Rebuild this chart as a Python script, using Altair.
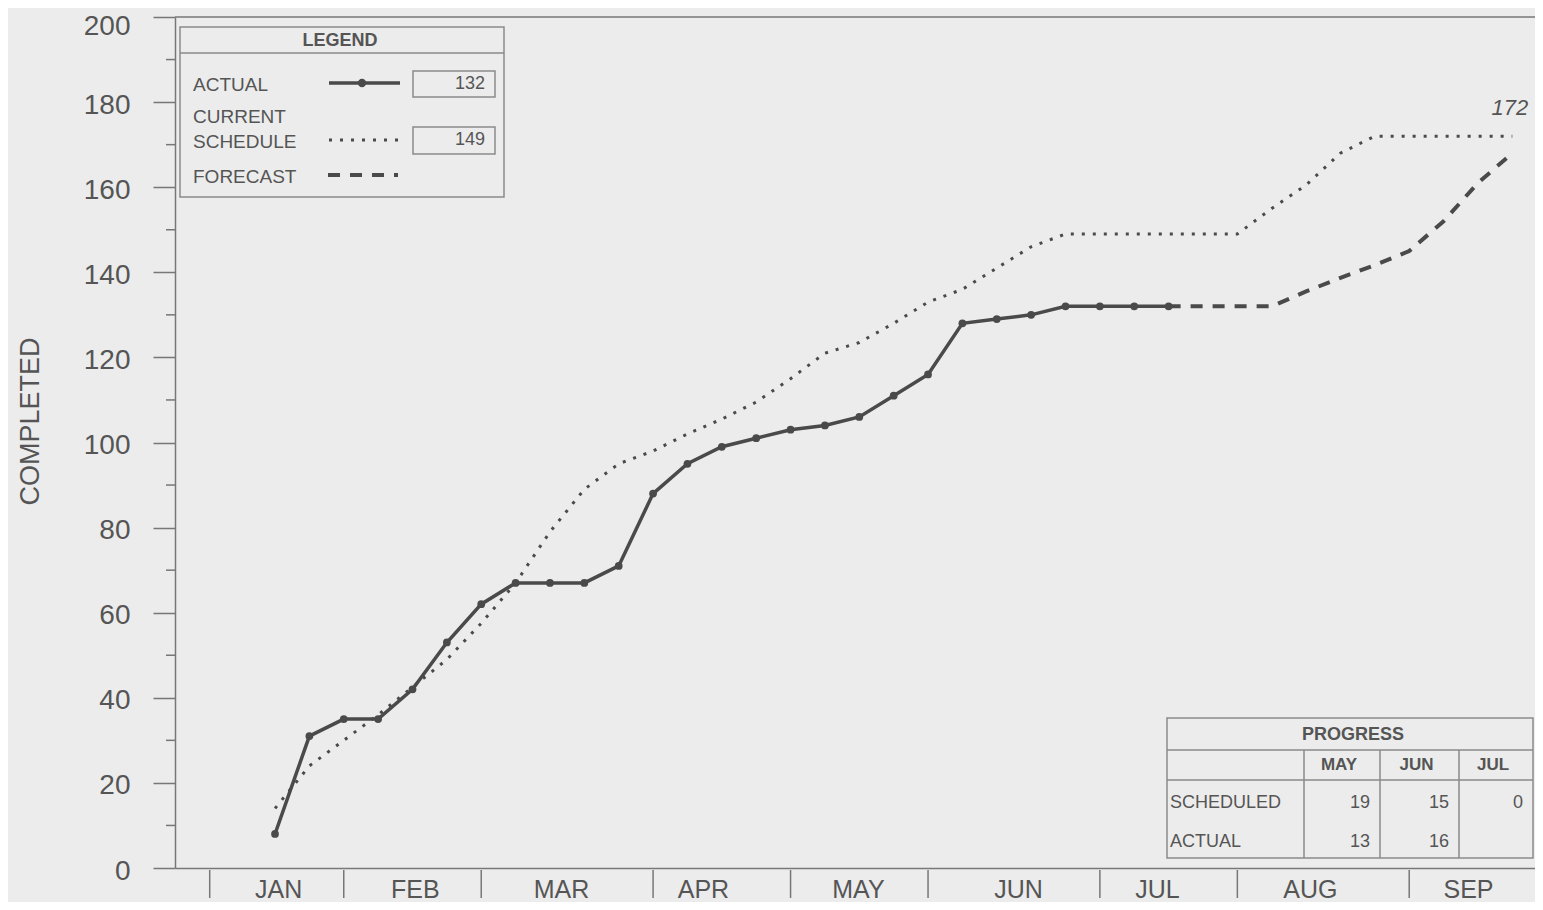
import altair as alt
import pandas as pd

# ---------------- data ----------------
weeks_actual = list(range(2, 29))
actual_vals = [8, 31, 35, 35, 42, 53, 62, 67, 67, 67, 71, 88, 95, 99, 101, 103, 104, 106,
               111, 116, 128, 129, 130, 132, 132, 132, 132]

weeks_sched = list(range(2, 39))
sched_vals = [14, 24, 30, 36, 42.5, 49, 57.5, 67, 79, 89, 95, 98, 102, 105.5, 109.5, 115,
              121, 123.5, 128, 133, 136, 141, 146, 149, 149, 149, 149, 149, 149, 155, 160.5,
              168, 172, 172, 172, 172, 172]

weeks_fc = list(range(28, 39))
fc_vals = [132, 132, 132, 132, 135.5, 138.7, 141.7, 145, 152, 161, 168]

month_names = ["JAN", "FEB", "MAR", "APR", "MAY", "JUN", "JUL", "AUG", "SEP"]
month_bounds = [0.1, 4, 8, 13, 17, 21, 26, 30, 35]
month_label_pos = [2.09, 6.07, 10.32, 14.45, 18.96, 23.62, 27.66, 32.11, 36.71]

y_major = list(range(0, 201, 20))
y_minor = list(range(10, 200, 20))

prog_months = ["MAY", "JUN", "JUL"]
prog_sched = [19, 15, 0]
prog_actual = [13, 16, None]

current_week = 28

# ---------------- styles ----------------
BG = "#ececec"
LINE = "#4a4a4a"
TXT = "#555555"
BOX = "#8a8a8a"
AX = "#777777"
FONT = "Liberation Sans"
W, H = 1360, 851

df_act = pd.DataFrame({"week": weeks_actual, "value": actual_vals})
df_sch = pd.DataFrame({"week": weeks_sched, "value": sched_vals})
df_fc = pd.DataFrame({"week": weeks_fc, "value": fc_vals})

xscale = alt.Scale(domain=[-0.91, 38.66], nice=False, zero=False)
yscale = alt.Scale(domain=[0, 200], nice=False)

names_js = "[" + ",".join("'%s'" % m for m in month_names) + "]"
pos_js = "[" + ",".join(repr(p) for p in month_label_pos) + "]"

x_axis = alt.Axis(
    values=month_label_pos, ticks=False, tickSize=0, grid=False,
    labelExpr=f"{names_js}[indexof({pos_js}, datum.value)]",
    labelFont=FONT, labelFontSize=25, labelColor=TXT, labelPadding=21,
    labelOverlap=False, labelFlush=False, labelBaseline="middle",
    domainColor=AX, domainWidth=1.5, title=None,
)
y_axis = alt.Axis(
    values=y_major, tickSize=22, tickColor=AX, tickWidth=1.5, grid=False,
    labelFont=FONT, labelFontSize=28, labelColor=TXT, labelPadding=23,
    labelOffset={"condition": {"test": f"datum.value >= {y_major[-1]}", "value": 9},
                 "value": 3},
    labelOverlap=False, labelFlush=False, labelBaseline="middle",
    domainColor=AX, domainWidth=1.5,
    title="COMPLETED", titleFont=FONT, titleFontSize=27, titleFontWeight="normal",
    titleColor=TXT, titleAngle=-90, titleX=-145, titleY=404, titleAlign="center",
    titleBaseline="middle",
)

sched_line = alt.Chart(df_sch).mark_line(
    color=LINE, strokeWidth=3, strokeDash=[3, 8]
).encode(
    x=alt.X("week:Q", scale=xscale, axis=x_axis),
    y=alt.Y("value:Q", scale=yscale, axis=y_axis),
)

fc_line = alt.Chart(df_fc).mark_line(
    color=LINE, strokeWidth=4, strokeDash=[12, 10]
).encode(x=alt.X("week:Q"), y=alt.Y("value:Q"))

act_line = alt.Chart(df_act).mark_line(
    color=LINE, strokeWidth=3.5,
    point=alt.OverlayMarkDef(filled=True, size=60, color=LINE, opacity=1),
).encode(x=alt.X("week:Q"), y=alt.Y("value:Q"))

top_rule = alt.Chart(pd.DataFrame({"value": [200]})).mark_rule(
    color=AX, strokeWidth=1.5
).encode(y=alt.Y("value:Q"))

minor_ticks = alt.Chart(pd.DataFrame({"value": y_minor})).mark_rule(
    color=AX, strokeWidth=1.5
).encode(y=alt.Y("value:Q"), x=alt.value(-9), x2=alt.value(0))

month_ticks = alt.Chart(pd.DataFrame({"week": month_bounds})).mark_rule(
    color=AX, strokeWidth=1.5
).encode(x=alt.X("week:Q"), y=alt.value(H + 2), y2=alt.value(H + 30))

last = pd.DataFrame({"week": [weeks_sched[-1]], "value": [sched_vals[-1]]})
end_label = alt.Chart(last).mark_text(
    align="right", baseline="middle", dx=16, dy=-28, fontSize=22,
    fontStyle="italic", font=FONT, color=TXT,
).encode(x=alt.X("week:Q"), y=alt.Y("value:Q"), text=alt.Text("value:Q", format="d"))

one = pd.DataFrame({"a": [0]})


def box(x1, y1, x2, y2):
    return alt.Chart(one).mark_rect(fill=BG, stroke=BOX, strokeWidth=1.5).encode(
        x=alt.value(x1), x2=alt.value(x2), y=alt.value(y1), y2=alt.value(y2))


def hline(x1, x2, y, color=BOX, width=1.5, dash=None):
    kw = {} if dash is None else {"strokeDash": dash}
    return alt.Chart(one).mark_rule(color=color, strokeWidth=width, **kw).encode(
        x=alt.value(x1), x2=alt.value(x2), y=alt.value(y))


def vline(x, y1, y2):
    return alt.Chart(one).mark_rule(color=BOX, strokeWidth=1.5).encode(
        x=alt.value(x), y=alt.value(y1), y2=alt.value(y2))


def label(s, x, y, size=19, align="left", weight="normal"):
    return alt.Chart(one).mark_text(
        text=s, align=align, baseline="middle", fontSize=size, fontWeight=weight,
        color=TXT, font=FONT,
    ).encode(x=alt.value(x), y=alt.value(y))


cur_sched = sched_vals[weeks_sched.index(current_week)]
cur_actual = actual_vals[weeks_actual.index(current_week)]

legend = [
    box(5, 10, 329, 180),
    hline(5, 329, 36),
    label("LEGEND", 165, 24, size=18, align="center", weight="bold"),
    label("ACTUAL", 18, 68),
    hline(154, 225, 66, color=LINE, width=3.5),
    alt.Chart(one).mark_point(filled=True, size=70, color=LINE, opacity=1).encode(
        x=alt.value(187), y=alt.value(66)),
    box(238, 54, 320, 80),
    label(str(cur_actual), 310, 67, size=18, align="right"),
    label("CURRENT", 18, 100),
    label("SCHEDULE", 18, 125),
    hline(154, 223, 123, color=LINE, width=3, dash=[3, 8]),
    box(238, 110, 320, 137),
    label(str(cur_sched), 310, 123, size=18, align="right"),
    label("FORECAST", 18, 160),
    hline(153, 223, 158, color=LINE, width=4, dash=[12, 10]),
]

tx0, tx1 = 992, 1358
col_x = [1129, 1205, 1284, tx1]
table = [
    box(tx0, 701, tx1, 841),
    hline(tx0, tx1, 733),
    hline(tx0, tx1, 763),
    label("PROGRESS", 1178, 718, size=18, align="center", weight="bold"),
    label("SCHEDULED", 995, 786, size=18),
    label("ACTUAL", 995, 825, size=18),
]
for i in range(3):
    table.append(vline(col_x[i], 733, 841))
for i, m in enumerate(prog_months):
    cx = (col_x[i] + col_x[i + 1]) / 2
    table.append(label(m, cx - 3, 748, size=17, align="center", weight="bold"))
    table.append(label(str(prog_sched[i]), col_x[i + 1] - 10, 786, size=18, align="right"))
    if prog_actual[i] is not None:
        table.append(label(str(prog_actual[i]), col_x[i + 1] - 10, 825, size=18, align="right"))

chart = alt.layer(
    sched_line, fc_line, act_line, top_rule, minor_ticks, month_ticks, end_label,
    *legend, *table,
).properties(
    width=W, height=H,
    autosize=alt.AutoSizeParams(type="none"),
    padding={"left": 167, "top": 9, "right": 0, "bottom": 34},
    background=BG,
).configure_view(stroke=None)

chart.save("out.html", embed_options={"renderer": "svg", "actions": False})
